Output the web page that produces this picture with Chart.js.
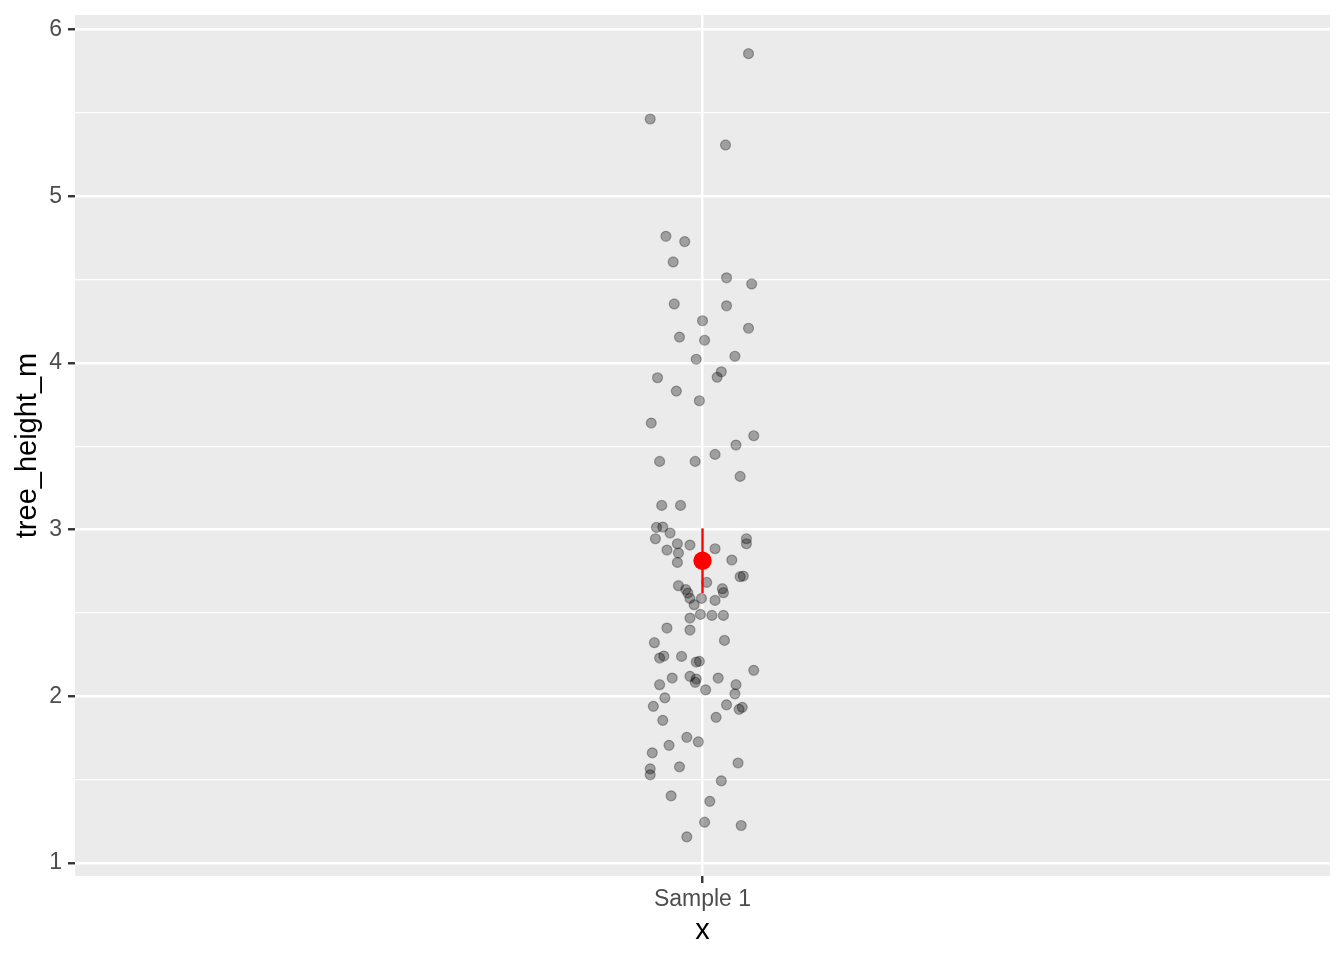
<!DOCTYPE html>
<html>
<head>
<meta charset="utf-8">
<title>tree_height_m</title>
<script src="https://cdn.jsdelivr.net/npm/chart.js@4/dist/chart.umd.min.js"></script>
<style>
  html, body { margin: 0; padding: 0; background: #ffffff; }
  canvas { display: block; }
</style>
</head>
<body>
<canvas id="heightChart" width="1344" height="960"></canvas>
<script>
// Category on the x axis
const sampleLabels = ['Sample 1'];

// Jittered tree heights (m) and their horizontal jitter offset from the category
const heightValues = [
    5.856, 5.464, 5.308, 4.760, 4.728, 4.606, 4.511, 4.474, 4.354, 4.343,
    4.253, 4.208, 4.155, 4.136, 4.022, 4.040, 3.947, 3.914, 3.911, 3.831,
    3.773, 3.639, 3.563, 3.507, 3.451, 3.409, 3.409, 3.319, 3.145, 3.145,
    3.013, 3.015, 2.979, 2.945, 2.945, 2.915, 2.915, 2.907, 2.877, 2.859,
    2.885, 2.803, 2.817, 2.717, 2.721, 2.683, 2.663, 2.640, 2.619, 2.645,
    2.621, 2.587, 2.587, 2.575, 2.549, 2.469, 2.491, 2.485, 2.485, 2.409,
    2.397, 2.335, 2.321, 2.229, 2.241, 2.239, 2.205, 2.209, 2.155, 2.109,
    2.119, 2.103, 2.083, 2.109, 2.069, 2.069, 2.038, 2.014, 1.990, 1.948,
    1.939, 1.921, 1.933, 1.855, 1.873, 1.753, 1.726, 1.705, 1.660, 1.599,
    1.576, 1.564, 1.528, 1.492, 1.402, 1.369, 1.244, 1.224, 1.156
];
const jitterOffsets = [
    0.044, -0.050, 0.022, -0.035, -0.017, -0.028, 0.023, 0.047, -0.027, 0.023,
    0.000, 0.044, -0.022, 0.002, -0.006, 0.031, 0.018, 0.014, -0.043, -0.025,
    -0.003, -0.049, 0.049, 0.032, 0.012, -0.041, -0.007, 0.036, -0.039, -0.021,
    -0.044, -0.038, -0.031, -0.045, 0.042, 0.042, -0.024, -0.012, -0.034, -0.023,
    0.012, -0.024, 0.028, 0.036, 0.039, 0.004, -0.023, -0.016, -0.014, 0.019,
    0.020, -0.012, -0.001, 0.012, -0.008, -0.012, -0.002, 0.009, 0.020, -0.034,
    -0.012, 0.021, -0.046, -0.041, -0.037, -0.020, -0.006, -0.003, 0.049, -0.029,
    -0.012, -0.006, -0.007, 0.015, -0.041, 0.032, 0.003, 0.031, -0.036, 0.023,
    -0.047, 0.035, 0.038, -0.038, 0.013, -0.015, -0.004, -0.032, -0.048, 0.034,
    -0.022, -0.050, -0.050, 0.018, -0.030, 0.007, 0.002, 0.037, -0.015
];

// Mean with its interval
const meanHeight = 2.813;
const meanLow = 2.619;
const meanHigh = 3.007;

// Axis ticks
const yMajorTicks = [1, 2, 3, 4, 5, 6];
const yMinorTicks = [1.5, 2.5, 3.5, 4.5, 5.5];

document.addEventListener('DOMContentLoaded', () => {
    const fontFamily = "'Liberation Sans', Arial, Helvetica, sans-serif";
    const isMajor = v => yMajorTicks.includes(v);

    // grey panel behind the grid
    const panelBackground = {
        id: 'panelBackground',
        beforeDraw(chart) {
            const { ctx, chartArea: a } = chart;
            ctx.save();
            ctx.fillStyle = '#EBEBEB';
            ctx.fillRect(a.left, a.top, a.right - a.left, a.bottom - a.top);
            ctx.restore();
        }
    };

    const points = heightValues.map((h, i) => ({ x: 1 + jitterOffsets[i], y: h }));

    const ctx = document.getElementById('heightChart').getContext('2d');
    new Chart(ctx, {
        type: 'scatter',
        data: {
            datasets: [
                {
                    data: points,
                    backgroundColor: 'rgba(0,0,0,0.32)',
                    borderColor: 'rgba(0,0,0,0.30)',
                    borderWidth: 1.2,
                    pointRadius: 5,
                    order: 3
                },
                {
                    data: [{ x: 1, y: meanLow }, { x: 1, y: meanHigh }],
                    showLine: true,
                    borderColor: '#FF0000',
                    borderWidth: 2.4,
                    pointRadius: 0,
                    order: 2
                },
                {
                    data: [{ x: 1, y: meanHeight }],
                    backgroundColor: '#FF0000',
                    borderWidth: 0,
                    pointRadius: 9.2,
                    order: 1
                }
            ]
        },
        options: {
            responsive: false,
            animation: false,
            layout: { padding: { left: 0, top: 15, right: 14, bottom: 0 } },
            plugins: {
                legend: { display: false },
                tooltip: { enabled: false }
            },
            scales: {
                x: {
                    type: 'linear',
                    min: 0.4,
                    max: 1.6,
                    afterBuildTicks: s => { s.ticks = sampleLabels.map((_, i) => ({ value: i + 1 })); },
                    afterFit: s => { s.height = 84; s.paddingLeft = 0; s.paddingRight = 0; },
                    ticks: {
                        callback: v => sampleLabels[Math.round(v) - 1] || '',
                        font: { family: fontFamily, size: 23 },
                        color: '#4D4D4D',
                        padding: 3,
                        maxRotation: 0,
                        autoSkip: false
                    },
                    grid: {
                        color: '#FFFFFF',
                        lineWidth: 2.5,
                        tickColor: '#333333',
                        tickLength: 7,
                        tickWidth: 2.4
                    },
                    border: { display: false },
                    title: {
                        display: true,
                        text: 'x',
                        color: '#000000',
                        font: { family: fontFamily, size: 29 },
                        padding: { top: 0, bottom: 12 }
                    }
                },
                y: {
                    type: 'linear',
                    min: 0.921,
                    max: 6.088,
                    afterBuildTicks: s => {
                        s.ticks = yMajorTicks.concat(yMinorTicks).sort((a, b) => a - b).map(v => ({ value: v }));
                    },
                    afterFit: s => { s.width = 75; s.paddingTop = 0; s.paddingBottom = 0; },
                    ticks: {
                        callback: v => isMajor(v) ? String(v) : '',
                        font: { family: fontFamily, size: 23 },
                        color: '#4D4D4D',
                        padding: 6,
                        autoSkip: false
                    },
                    grid: {
                        color: '#FFFFFF',
                        lineWidth: c => (c.tick && isMajor(c.tick.value)) ? 2.5 : 1.3,
                        tickColor: c => (c.tick && isMajor(c.tick.value)) ? '#333333' : 'rgba(0,0,0,0)',
                        tickLength: 7,
                        tickWidth: 2.4
                    },
                    border: { display: false },
                    title: {
                        display: true,
                        text: 'tree_height_m',
                        color: '#000000',
                        font: { family: fontFamily, size: 29 },
                        padding: { top: 11, bottom: 0 }
                    }
                }
            }
        },
        plugins: [panelBackground]
    });
});
</script>
</body>
</html>
